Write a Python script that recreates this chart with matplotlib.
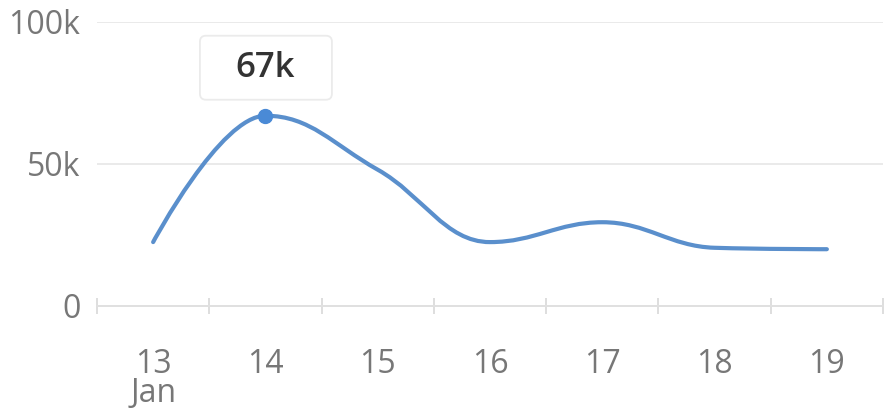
import numpy as np
import matplotlib
matplotlib.use("Agg")
import matplotlib.pyplot as plt
from matplotlib.path import Path
from matplotlib.patches import PathPatch, FancyBboxPatch
from matplotlib.transforms import ScaledTranslation

days = ["13\nJan", "14", "15", "16", "17", "18", "19"]
visits = [22500, 67000, 48000, 22500, 29500, 20500, 20000]
y_ticks = [0, 50000, 100000]
y_labels = ["0", "50k", "100k"]
highlight = 1
highlight_label = "67k"

LINE = "#5a8fcc"
GRID = "#e6e6e6"
LABEL = "#777777"


def spline_path(ax, xs, ys, smoothing=1.5):
    # highcharts style spline, control points worked out in screen pixels
    pts = ax.transData.transform(np.column_stack([xs, ys]))
    px, py = pts[:, 0], pts[:, 1]
    denom = smoothing + 1
    n = len(pts)
    ctrl = [None] * n
    for i in range(1, n - 1):
        lcx = (smoothing * px[i] + px[i - 1]) / denom
        lcy = (smoothing * py[i] + py[i - 1]) / denom
        rcx = (smoothing * px[i] + px[i + 1]) / denom
        rcy = (smoothing * py[i] + py[i + 1]) / denom
        corr = (rcy - lcy) * (rcx - px[i]) / (rcx - lcx) + py[i] - rcy
        lcy += corr
        rcy += corr
        if lcy > py[i - 1] and lcy > py[i]:
            lcy = max(py[i - 1], py[i])
            rcy = 2 * py[i] - lcy
        elif lcy < py[i - 1] and lcy < py[i]:
            lcy = min(py[i - 1], py[i])
            rcy = 2 * py[i] - lcy
        if rcy > py[i + 1] and rcy > py[i]:
            rcy = max(py[i + 1], py[i])
            lcy = 2 * py[i] - rcy
        elif rcy < py[i + 1] and rcy < py[i]:
            rcy = min(py[i + 1], py[i])
            lcy = 2 * py[i] - rcy
        ctrl[i] = ((lcx, lcy), (rcx, rcy))
    verts = [pts[0]]
    codes = [Path.MOVETO]
    for i in range(1, n):
        c1 = ctrl[i - 1][1] if ctrl[i - 1] else pts[i - 1]
        c2 = ctrl[i][0] if ctrl[i] else pts[i]
        verts += [c1, c2, pts[i]]
        codes += [Path.CURVE4] * 3
    verts = ax.transData.inverted().transform(np.array(verts, dtype=float))
    return Path(verts, codes)


plt.rcParams["font.family"] = ["Open Sans", "DejaVu Sans"]

fig = plt.figure(figsize=(8.85, 4.09), dpi=100)
ax = fig.add_axes([97 / 885, 1 - 306 / 409, 786 / 885, 284 / 409])

x = np.arange(len(days))
ax.set_xlim(-0.5, len(days) - 0.5)
ax.set_ylim(0, 100000)

ax.add_patch(PathPatch(spline_path(ax, x, visits), facecolor="none",
                       edgecolor=LINE, lw=3, capstyle="round", zorder=3))
ax.plot(x[highlight], visits[highlight], "o", ms=10, color="#4a8ad6", zorder=4)

# tooltip box, sized in inches around the highlighted point
tip = fig.dpi_scale_trans + ScaledTranslation(x[highlight], visits[highlight],
                                              ax.transData)
ax.add_patch(FancyBboxPatch((-0.655, 0.16), 1.32, 0.64,
                            boxstyle="round,pad=0,rounding_size=0.06",
                            fc="white", ec="#ebebeb", lw=1.3,
                            transform=tip, zorder=5, clip_on=False))
ax.annotate(highlight_label, (x[highlight], visits[highlight]),
            xytext=(0, 34), textcoords="offset points",
            ha="center", va="center", fontsize=25, color="#333333",
            fontweight="semibold", zorder=6)

ax.set_xticks(x)
ax.set_xticklabels(days, fontsize=23, color=LABEL, linespacing=0.85)
ax.set_xticks(np.arange(-0.5, len(days)), minor=True)
ax.tick_params(axis="x", which="major", length=0, pad=30)
ax.tick_params(axis="x", which="minor", length=12, direction="inout",
               color="#d8d8d8", width=1.2)
ax.set_yticks(y_ticks)
ax.set_yticklabels(y_labels, fontsize=23, color=LABEL)
ax.tick_params(axis="y", length=0, pad=12)
ax.grid(axis="y", color=GRID, lw=1.2)
ax.set_axisbelow(True)
for s in ["top", "right", "left"]:
    ax.spines[s].set_visible(False)
ax.spines["bottom"].set_color("#e0e0e0")
ax.spines["bottom"].set_linewidth(1.4)

fig.savefig("out.png", dpi=100, facecolor="white")
